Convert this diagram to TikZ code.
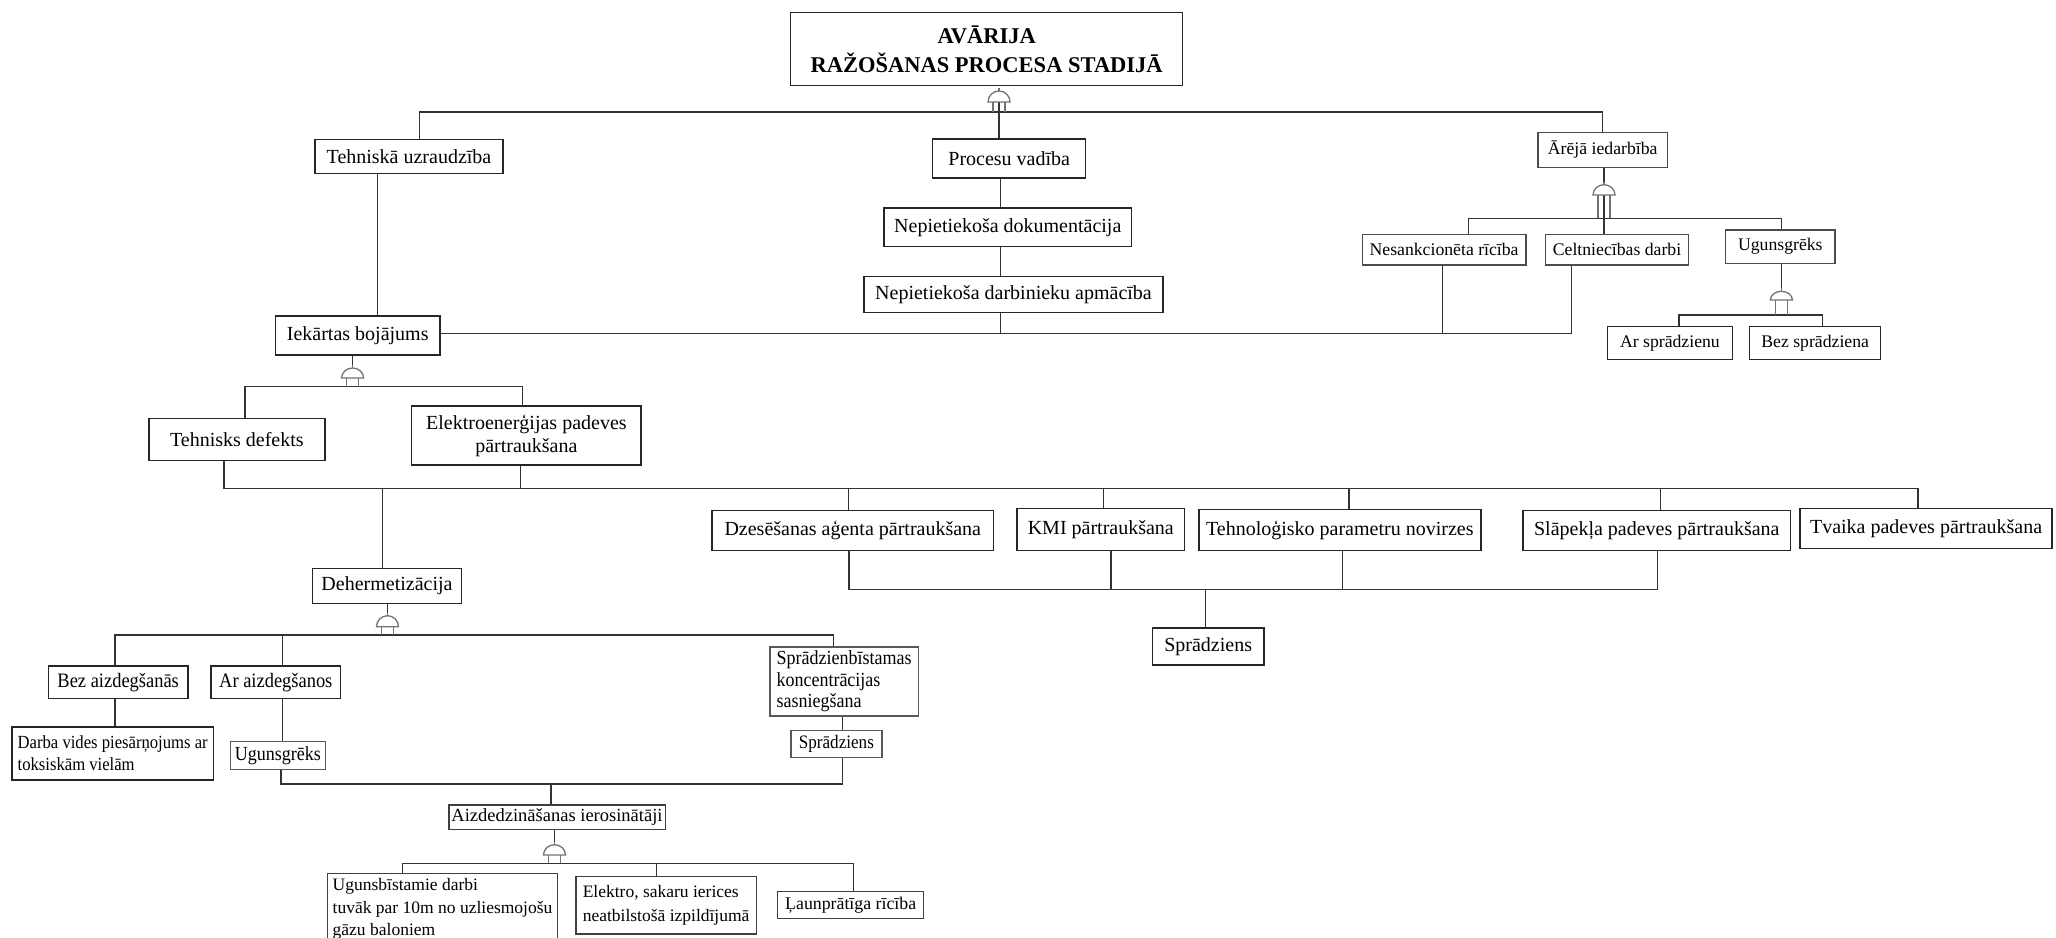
\documentclass[tikz,border=0pt]{standalone}
\usepackage{fontspec}
\setmainfont{Liberation Serif}
\newfontfamily\condf[FakeStretch=0.9]{Liberation Serif}
\newcommand\fgate[5]{%
  \coordinate (#1-t) at (#2,#3);
  \coordinate (#1-b) at (#2,#4);
  \pgfmathsetmacro\gaterad{#4-#3-3}%
  \draw[gatest] ({#2-11},#4) arc[start angle=180,end angle=0,x radius=11pt,y radius=\gaterad pt] -- cycle;
  \draw[gatest] (#2,#3) -- (#2,{#3+3});
  \draw[gatest] ({#2-6},#4) -- ({#2-6},#5) ({#2+6},#4) -- ({#2+6},#5);
}
\begin{document}
\begin{tikzpicture}[x=1pt,y=-1pt,
  ln/.style={draw=black!80, line width=1.4pt},
  gatest/.style={draw=black!55, line width=1.3pt, fill=white},
  bx/.style={draw=black!85, line width=1.5pt, inner sep=0pt, align=center, font=\fontsize{20}{23}\selectfont},
  tb/.style={bx, font=\bfseries\fontsize{22.5}{29}\selectfont},
  sbx/.style={bx, draw=black!70, font=\fontsize{17.7}{21}\selectfont},
  cbx/.style={bx, draw=black!65, font=\condf\fontsize{20.5}{21.5}\selectfont},
  lbx/.style={bx, draw=black!75, font=\fontsize{17.8}{22}\selectfont}]
\useasboundingbox (0,0) rectangle (2056,937);
\fill[white] (0,0) rectangle (2056,937);

% ---------- nodes ----------
\node[tb, minimum width=392pt, minimum height=73pt] (top) at (986.7,48.9) {AVĀRIJA\\RAŽOŠANAS PROCESA STADIJĀ};
\node[bx, minimum width=188pt, minimum height=34pt] (tehu) at (409,156.3) {Tehniskā uzraudzība};
\node[bx, minimum width=153pt, minimum height=39pt] (proc) at (1009.2,158.5) {Procesu vadība};
\node[bx, minimum width=247.6pt, minimum height=38.7pt] (ndok) at (1007.8,227.3) {Nepietiekoša dokumentācija};
\node[bx, minimum width=299pt, minimum height=36pt] (ndarb) at (1013.5,294.7) {Nepietiekoša darbinieku apmācība};
\node[sbx, minimum width=129.4pt, minimum height=35.4pt] (arej) at (1602.7,150) {Ārējā iedarbība};
\node[sbx, minimum width=163.4pt, minimum height=30.7pt] (nesank) at (1444.1,249.7) {Nesankcionēta rīcība};
\node[sbx, minimum width=142.7pt, minimum height=30.7pt] (celtn) at (1617,249.7) {Celtniecības darbi};
\node[sbx, minimum width=109.4pt, minimum height=33.3pt] (ugtop) at (1780.3,246.7) {Ugunsgrēks};
\node[sbx, draw=black!85, minimum width=125pt, minimum height=32.6pt] (arspr) at (1669.9,343) {Ar sprādzienu};
\node[sbx, draw=black!85, minimum width=131pt, minimum height=32.6pt] (bezspr) at (1815.2,343) {Bez sprādziena};
\node[bx, minimum width=164.7pt, minimum height=39.3pt] (iek) at (357.7,335.4) {Iekārtas bojājums};
\node[bx, minimum width=175.7pt, minimum height=42pt] (tdef) at (236.9,439.3) {Tehnisks defekts};
\node[bx, minimum width=229.6pt, minimum height=59pt] (elek) at (526.4,435.5) {Elektroenerģijas padeves\\pārtraukšana};
\node[bx, minimum width=281.3pt, minimum height=40pt] (dzes) at (852.8,530.7) {Dzesēšanas aģenta pārtraukšana};
\node[bx, minimum width=167.5pt, minimum height=42.4pt] (kmi) at (1100.8,529.5) {KMI pārtraukšana};
\node[bx, minimum width=282pt, minimum height=41.4pt] (tehn) at (1339.8,530) {Tehnoloģisko parametru novirzes};
\node[bx, minimum width=267.2pt, minimum height=40pt] (slap) at (1656.8,530.7) {Slāpekļa padeves pārtraukšana};
\node[bx, minimum width=252.2pt, minimum height=40pt] (tvaika) at (1926.1,528.3) {Tvaika padeves pārtraukšana};
\node[bx, minimum width=111.7pt, minimum height=37.3pt] (sprad) at (1208.2,646.4) {Sprādziens};
\node[bx, minimum width=148.9pt, minimum height=35pt] (deh) at (387,585.8) {Dehermetizācija};
\node[cbx, draw=black!85, minimum width=139.4pt, minimum height=32.3pt] (bezaiz) at (118.2,682.2) {Bez aizdegšanās};
\node[cbx, draw=black!85, minimum width=129.7pt, minimum height=32.3pt] (araiz) at (275.8,682.2) {Ar aizdegšanos};
\node[cbx, font=\condf\fontsize{20}{21.5}\selectfont, align=left, minimum width=148.5pt, minimum height=69.3pt] (spkonc) at (844,681.4) {Sprādzienbīstamas\\koncentrācijas\\sasniegšana};
\node[cbx, draw=black!85, font=\condf\fontsize{18.5}{22.3}\selectfont, align=left, minimum width=201.2pt, minimum height=53.3pt] (darba) at (112.7,753.4) {Darba vides piesārņojums ar\\toksiskām vielām};
\node[cbx, font=\condf\fontsize{20}{22}\selectfont, minimum width=95.2pt, minimum height=27.6pt] (ugsm) at (277.9,755.5) {Ugunsgrēks};
\node[cbx, font=\condf\fontsize{19}{22}\selectfont, minimum width=90.8pt, minimum height=26.6pt] (sprsm) at (836.4,744) {Sprādziens};
\node[lbx, font=\fontsize{18.5}{22}\selectfont, minimum width=216.5pt, minimum height=24.3pt] (aizd) at (557,817.2) {Aizdedzināšanas ierosinātāji};
\node[lbx, font=\fontsize{17.5}{22.5}\selectfont, align=left, anchor=north west, minimum width=230pt, inner ysep=5pt] (ugb) at (326.8,872.7) {Ugunsbīstamie darbi\\tuvāk par 10m no uzliesmojošu\\gāzu baloniem\\[4pt]};
\node[lbx, font=\fontsize{17.5}{23.5}\selectfont, align=left, minimum width=180.4pt, minimum height=57.3pt] (elektro) at (666.1,905.3) {Elektro, sakaru ierices\\neatbilstošā izpildījumā};
\node[lbx, minimum width=146pt, minimum height=26.6pt] (laun) at (850.7,905) {Ļaunprātīga rīcība};

% ---------- bus coordinates ----------
\coordinate (b0L) at (419.7,112);  \coordinate (b0R) at (1602.3,112);
\coordinate (cP) at (1000.5,333.3);
\coordinate (cT) at (377.3,250);
\coordinate (b1R) at (1571.7,333.3); \coordinate (cN) at (1442.7,333.3);
\coordinate (b2L) at (1468.4,218.3); \coordinate (b2R) at (1781.4,218.3);
\coordinate (b3L) at (1678.9,315);   \coordinate (b3R) at (1822.4,315);
\coordinate (b4L) at (244.8,386.7);  \coordinate (b4R) at (522.6,386.7);
\coordinate (b5a) at (224,488.5);    \coordinate (b5b) at (520.7,488.5);
\coordinate (b5c) at (382.2,488.5);  \coordinate (b5e) at (1918.1,488.5);
\coordinate (b5d1) at (848.5,488.5); \coordinate (b5d2) at (1103.2,488.5);
\coordinate (b5d3) at (1349,488.5);  \coordinate (b5d4) at (1660.7,488.5);
\coordinate (b6a) at (848.8,589.3);  \coordinate (b6b) at (1110.8,589.3);
\coordinate (b6c) at (1342.7,589.3); \coordinate (b6d) at (1657.3,589.3);
\coordinate (b6s) at (1205.4,589.3);
\coordinate (b7a) at (115,635);      \coordinate (b7b) at (282.2,635);
\coordinate (b7c) at (833.3,635);
\coordinate (c8) at (842.4,720);
\coordinate (b8a) at (281,784);      \coordinate (b8b) at (842.4,784);
\coordinate (b8c) at (550.8,784);
\coordinate (b9a) at (402.7,863.3);  \coordinate (b9b) at (656.3,863.3);
\coordinate (b9c) at (853.6,863.3);

% ---------- connectors ----------
\draw[ln] (tehu.north -| b0L) -- (b0L) -- (b0R) -- (arej.north -| b0R);
\draw[ln] (999,102) -- (proc.north -| 999,0);
\draw[ln] (proc.south -| cP) -- (ndok.north -| cP);
\draw[ln] (ndok.south -| cP) -- (ndarb.north -| cP);
\draw[ln] (ndarb.south -| cP) -- (cP);
\draw[ln] (tehu.south -| cT) -- (iek.north -| cT);
\draw[ln] (iek.east |- b1R) -- (b1R) -- (celtn.south -| b1R);
\draw[ln] (nesank.south -| cN) -- (cN);
% Arejā iedarbība
\draw[ln] (arej.south -| 1604,0) -- (1604,181.7);
\draw[ln] (nesank.north -| b2L) -- (b2L) -- (b2R) -- (ugtop.north -| b2R);
\draw[ln] (1604,195) -- (celtn.north -| 1604,0);
\draw[ln] (ugtop.south -| b2R) -- (1781.4,288.3);
\draw[ln] (arspr.north -| b3L) -- (b3L) -- (b3R) -- (bezspr.north -| b3R);
% Iekārtas bojājums
\draw[ln] (iek.south -| 352.6,0) -- (352.6,365);
\draw[ln] (tdef.north -| b4L) -- (b4L) -- (b4R) -- (elek.north -| b4R);
\draw[ln] (tdef.south -| b5a) -- (b5a) -- (b5e) -- (tvaika.north -| b5e);
\draw[ln] (elek.south -| b5b) -- (b5b);
\draw[ln] (b5c) -- (deh.north -| b5c);
\draw[ln] (b5d1) -- (dzes.north -| b5d1);
\draw[ln] (b5d2) -- (kmi.north -| b5d2);
\draw[ln] (b5d3) -- (tehn.north -| b5d3);
\draw[ln] (b5d4) -- (slap.north -| b5d4);
\draw[ln] (dzes.south -| b6a) -- (b6a) -- (b6d) -- (slap.south -| b6d);
\draw[ln] (kmi.south -| b6b) -- (b6b);
\draw[ln] (tehn.south -| b6c) -- (b6c);
\draw[ln] (b6s) -- (sprad.north -| b6s);
% Dehermetizācija
\draw[ln] (deh.south -| 387.5,0) -- (387.5,612.7);
\draw[ln] (bezaiz.north -| b7a) -- (b7a) -- (b7c) -- (spkonc.north -| b7c);
\draw[ln] (b7b) -- (araiz.north -| b7b);
\draw[ln] (bezaiz.south -| b7a) -- (darba.north -| b7a);
\draw[ln] (araiz.south -| b7b) -- (ugsm.north -| b7b);
\draw[ln] (spkonc.south -| c8) -- (sprsm.north -| c8);
\draw[ln] (ugsm.south -| b8a) -- (b8a) -- (b8b) -- (sprsm.south -| b8b);
\draw[ln] (b8c) -- (aizd.north -| b8c);
% Aizdedzināšanas ierosinātāji
\draw[ln] (aizd.south -| 554.5,0) -- (554.5,841.7);
\draw[ln] (ugb.north -| b9a) -- (b9a) -- (b9c) -- (laun.north -| b9c);
\draw[ln] (b9b) -- (elektro.north -| b9b);

% ---------- gates ----------
\fgate{g0}{999}{88}{102}{112}
\fgate{g2}{1604}{181.7}{195}{218.3}
\fgate{g3}{1781.4}{288.3}{300}{315}
\fgate{g4}{352.6}{365}{378}{386.7}
\fgate{g5}{387.5}{612.7}{626.7}{635}
\fgate{g6}{554.5}{841.7}{855}{863.3}
\end{tikzpicture}
\end{document}
